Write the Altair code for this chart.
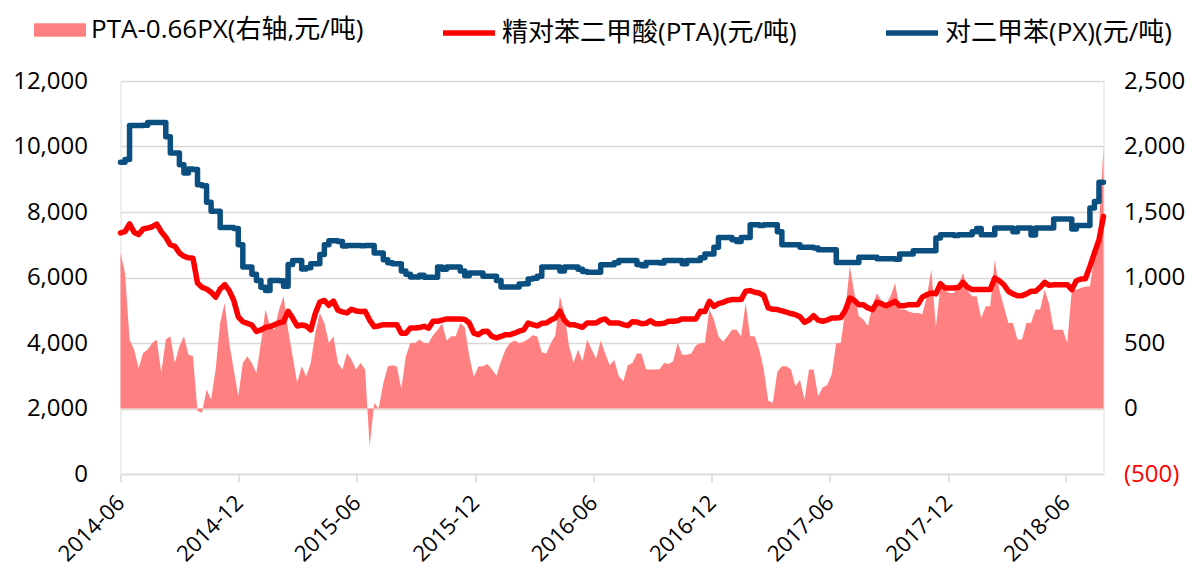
import altair as alt
import pandas as pd

# ---- data (weekly samples starting 2014-06-01) ----
START = "2014-06-01"

PX = [9520, 9600, 10640, 10640, 10640, 10650, 10730, 10730, 10730, 10730,
      10300, 9800, 9800, 9440, 9190, 9310, 9300, 8830, 8800, 8300,
      8020, 8020, 7530, 7530, 7530, 7500, 7000, 6320, 6320, 6100,
      5910, 5700, 5600, 5910, 5910, 5900, 5730, 6400, 6520, 6520,
      6260, 6300, 6420, 6420, 6700, 7000, 7120, 7120, 7100, 6960,
      6980, 6980, 6980, 6970, 6980, 6980,
      6750, 6750, 6545, 6450, 6420, 6420, 6200, 6100, 6015, 6015,
      6065, 6010, 6005, 6005, 6320, 6250, 6320, 6320, 6320, 6200,
      6055, 6140, 6140, 6140, 6035, 6035, 6035, 5910, 5710, 5710,
      5710, 5710, 5800, 5810, 5955, 5980, 6035, 6320, 6320, 6320,
      6320, 6200, 6320, 6320, 6320, 6250, 6180, 6160, 6160, 6160,
      6390, 6390, 6390, 6450,
      6520, 6520, 6520, 6520, 6400, 6360, 6460, 6460, 6460, 6440,
      6520, 6520, 6520, 6520, 6420, 6520, 6520, 6520, 6600, 6715,
      6715, 6920, 7225, 7225, 7225, 7150, 7100, 7225, 7225, 7610,
      7610, 7590, 7610, 7610, 7610, 7400, 7000, 7000, 7000, 7000,
      6920, 6920, 6920, 6900, 6850, 6850, 6850, 6850, 6460, 6460,
      6460, 6460, 6460, 6615, 6615, 6615,
      6615, 6575, 6575, 6575, 6575, 6560, 6715, 6715, 6715, 6820,
      6820, 6820, 6820, 6820, 7205, 7305, 7305, 7305, 7280, 7305,
      7305, 7305, 7400, 7500, 7305, 7305, 7305, 7510, 7510, 7510,
      7510, 7400, 7510, 7510, 7510, 7300, 7510, 7510, 7510, 7510,
      7785, 7785, 7785, 7785, 7480, 7590, 7590, 7590, 8120, 8320,
      8910, 8910]

PTA = [7360, 7400, 7640, 7380, 7310, 7480, 7510, 7550, 7630, 7400,
       7230, 7000, 6950, 6750, 6650, 6600, 6590, 5830, 5700, 5650,
       5550, 5400, 5650, 5780, 5600, 5300, 4800, 4650, 4600, 4550,
       4350, 4400, 4480, 4500, 4560, 4620, 4650, 4970, 4760, 4520,
       4550, 4520, 4400, 4900, 5250, 5300, 5150, 5280, 5000, 4950,
       4920, 5030, 4980, 4960, 4970, 4700,
       4500, 4520, 4560, 4560, 4560, 4560, 4300, 4300, 4460, 4460,
       4470, 4510, 4450, 4665, 4665, 4700, 4735, 4735, 4735, 4735,
       4720, 4610, 4300, 4255, 4350, 4360, 4200, 4155, 4200, 4255,
       4255, 4300, 4360, 4400, 4610, 4560, 4520, 4600, 4610, 4700,
       4765, 4970, 4700, 4560, 4560, 4520, 4480, 4610, 4610, 4610,
       4700, 4735, 4610, 4610,
       4610, 4560, 4530, 4650, 4640, 4590, 4600, 4680, 4590, 4590,
       4600, 4665, 4665, 4680, 4735, 4735, 4735, 4735, 4970, 4960,
       5275, 5120, 5200, 5240, 5300, 5325, 5325, 5325, 5580, 5600,
       5550, 5525, 5450, 5070, 5030, 5020, 4980, 4940, 4900, 4865,
       4800, 4630, 4700, 4835, 4700, 4665, 4700, 4765, 4765, 4780,
       5000, 5375, 5300, 5170, 5170, 5070,
       5020, 5240, 5200, 5140, 5200, 5270, 5140, 5140, 5170, 5170,
       5170, 5400, 5475, 5525, 5500, 5810, 5680, 5680, 5680, 5700,
       5850, 5700, 5630, 5630, 5630, 5630, 5630, 5985, 5900, 5780,
       5580, 5500, 5445, 5445, 5500, 5580, 5580, 5700, 5850, 5760,
       5780, 5780, 5780, 5780, 5630, 5900, 5955, 5960, 6340, 6750,
       7150, 7865]

SPREAD = [1187, 1034, 526, 450, 310, 424, 450, 500, 526, 272,
          526, 551, 348, 475, 551, 411, 399, -20, -33, 145,
          69, 297, 653, 805, 500, 297, 94, 348, 399, 348,
          272, 500, 755, 628, 602, 755, 856, 602, 399, 196,
          323, 246, 348, 577, 729, 653, 500, 551, 348, 297,
          424, 373, 297, 348, 297, -290,
          40, 0, 190, 320, 330, 320, 150, 400, 500, 500,
          526, 500, 500, 560, 600, 650, 520, 551, 551, 650,
          620, 400, 240, 320, 323, 340, 300, 250, 360, 450,
          500, 520, 500, 510, 530, 560, 550, 430, 420, 500,
          560, 856, 720, 480, 348, 450, 360, 526, 450, 380,
          520, 420, 330, 370,
          246, 208, 330, 348, 420, 420, 300, 297, 297, 300,
          348, 340, 360, 500, 411, 411, 420, 480, 500, 500,
          755, 680, 551, 510, 551, 602, 602, 551, 805, 551,
          551, 450, 300, 60, 43, 280, 323, 323, 300, 170,
          220, 69, 297, 297, 94, 160, 180, 260, 500, 500,
          750, 1085, 880, 704, 680, 628,
          790, 880, 820, 800, 856, 958, 755, 755, 740, 729,
          729, 720, 856, 1060, 620, 932, 900, 882, 882, 950,
          1034, 900, 856, 856, 691, 780, 780, 1136, 907, 780,
          653, 653, 526, 526, 653, 653, 755, 755, 907, 800,
          602, 602, 602, 500, 907, 907, 920, 932, 932, 1161,
          1390, 2000]

L_AREA = "PTA-0.66PX(右轴,元/吨)"
L_PTA = "精对苯二甲酸(PTA)(元/吨)"
L_PX = "对二甲苯(PX)(元/吨)"

LEFT_TICKS = [0, 2000, 4000, 6000, 8000, 10000, 12000]
RIGHT_TICKS = [-500, 0, 500, 1000, 1500, 2000, 2500]
X_TICK_MONTHS = [(2014, 6), (2014, 12), (2015, 6), (2015, 12), (2016, 6),
                 (2016, 12), (2017, 6), (2017, 12), (2018, 6)]

dates = pd.date_range(START, periods=len(PX), freq="7D").strftime("%Y/%m/%d").tolist()

area_df = pd.DataFrame({"date": dates, "spread": SPREAD, "series": L_AREA})
pta_df = pd.DataFrame({"date": dates, "value": PTA, "series": L_PTA})
px_df = pd.DataFrame({"date": dates, "value": PX, "series": L_PX})

FONT = "Open Sans, Noto Sans CJK SC"
GRID = "#D9D9D9"

x_enc = alt.X(
    "date:T",
    scale=alt.Scale(domain=[alt.DateTime(year=2014, month=6, date=1),
                            alt.DateTime(year=2018, month=7, date=29)], nice=False),
    axis=alt.Axis(
        values=[alt.DateTime(year=y, month=m, date=1) for y, m in X_TICK_MONTHS],
        format="%Y-%m", labelAngle=-45, labelAlign="right", labelBaseline="middle",
        labelFontSize=22, labelFont=FONT, labelColor="#000000", labelPadding=17,
        domainColor=GRID, domainWidth=1.5, tickColor=GRID, tickWidth=1.5, tickSize=8,
        grid=False, title=None, labelOverlap=False,
    ),
)

area = alt.Chart(area_df).mark_area(opacity=1, interpolate="linear").encode(
    x=x_enc,
    y=alt.Y("spread:Q", scale=alt.Scale(domain=[-500, 2500], nice=False, zero=False),
            axis=alt.Axis(orient="right", values=RIGHT_TICKS, grid=False, domain=False, ticks=False,
                          labelPadding=20, labelFontSize=24, labelFont=FONT,
                          labelExpr="datum.value < 0 ? '(' + format(-datum.value, ',') + ')' : format(datum.value, ',')",
                          labelColor={"condition": {"test": "datum.value < 0", "value": "#FF0000"},
                                      "value": "#000000"},
                          title=None)),
    y2=alt.datum(0),
    fill=alt.Fill("series:N", scale=alt.Scale(domain=[L_AREA], range=["#FF8080"]),
                  legend=alt.Legend(orient="none", legendX=-86.5, legendY=-77, title=None,
                                    symbolType="M-1,-0.26H1V0.26H-1Z", symbolSize=2704,
                                    symbolStrokeWidth=0, symbolOpacity=1,
                                    labelFontSize=26, labelFont=FONT, labelColor="#000000",
                                    labelLimit=600, padding=0, labelOffset=5)),
)

y_left = alt.Y("value:Q", scale=alt.Scale(domain=[0, 12000], nice=False),
               axis=alt.Axis(orient="left", values=LEFT_TICKS,
                             labelExpr="format(datum.value, ',')", grid=True,
                             gridColor=GRID, gridWidth=1.5, domain=False, ticks=False,
                             labelPadding=33, labelFontSize=24, labelFont=FONT,
                             labelColor="#000000", title=None))

stroke_enc = alt.Stroke("series:N", scale=alt.Scale(domain=[L_PTA, L_PX], range=["#FF0000", "#0B4F80"]),
                        legend=alt.Legend(orient="none", direction="horizontal", legendX=319.5, legendY=-77,
                                          title=None, symbolType="stroke", symbolSize=2704,
                                          symbolStrokeWidth=5.5, labelFontSize=26, labelFont=FONT,
                                          labelColor="#000000", labelLimit=600, padding=0,
                                          columnPadding=78, labelOffset=4))

pta_line = alt.Chart(pta_df).mark_line(strokeWidth=5.5, strokeJoin="round", strokeCap="round").encode(
    x=x_enc, y=y_left, stroke=stroke_enc)
px_line = alt.Chart(px_df).mark_line(strokeWidth=5.5, strokeJoin="round", strokeCap="round",
                                     interpolate="step-after").encode(
    x=x_enc, y=y_left, stroke=stroke_enc)

lines = alt.layer(pta_line, px_line)

chart = alt.layer(area, lines).resolve_scale(y="independent").properties(
    width=983, height=393,
    padding={"left": 112.5, "top": 73, "right": 84.5, "bottom": 91},
    autosize=alt.AutoSizeParams(type="none"),
).configure_view(stroke=None).configure(background="white")

chart.save("out.html", embed_options={"renderer": "svg", "actions": False})
